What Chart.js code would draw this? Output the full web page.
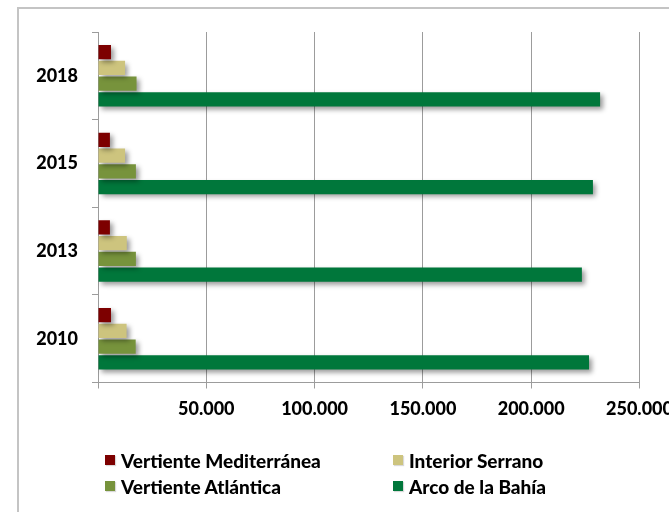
<!DOCTYPE html>
<html>
<head>
<meta charset="utf-8">
<script src="https://cdn.jsdelivr.net/npm/chart.js@4"></script>
<style>
  html, body { margin: 0; padding: 0; background: #fff; overflow: hidden; }
  #wrap { position: relative; width: 669px; height: 512px; }
  #frame {
    position: absolute; left: 17px; top: 7px; width: 700px; height: 600px;
    border-left: 2px solid #c4c4c4; border-top: 2px solid #c4c4c4;
  }
  #chart { position: absolute; left: 0; top: 0; }
  #legend {
    position: absolute; left: 105px; top: 447px;
    display: grid; grid-template-columns: 288px auto; grid-auto-rows: 26px;
    font-family: Lato, "Noto Sans", sans-serif; font-weight: 900; font-size: 19px; color: #000;
  }
  #legend .item { display: flex; align-items: center; white-space: nowrap; }
  #legend .box { width: 10px; height: 10px; margin-right: 6px; box-shadow: 1px 1px 1px rgba(0,0,0,0.15); }
</style>
</head>
<body>
<div id="wrap">
  <div id="frame"></div>
  <canvas id="chart" width="669" height="512"></canvas>
  <div id="legend"></div>
</div>
<script>
(() => {
  'use strict';

  // 年
  const years = ['2010', '2013', '2015', '2018'];

  // 系列ごとの値
  const mediterranea = [6000, 5500, 5500, 6000];
  const serrano = [13200, 13300, 12500, 12500];
  const atlantica = [17400, 17500, 17500, 17800];
  const arco = [226700, 223400, 228500, 231800];

  const seriesNames = ['Vertiente Mediterránea', 'Interior Serrano', 'Vertiente Atlántica', 'Arco de la Bahía'];
  const seriesColors = ['#7d0000', '#cdc47e', '#77933c', '#00773b'];
  const xTicks = [0, 50000, 100000, 150000, 200000, 250000];

  const font = { family: 'Lato, "Noto Sans", sans-serif', weight: 900, size: 18 };

  //バーに影をつける
  const shadowPlugin = {
    id: 'barShadow',
    beforeDatasetsDraw(chart) {
      const ctx = chart.ctx;
      ctx.save();
      ctx.shadowColor = 'rgba(0,0,0,0.4)';
      ctx.shadowBlur = 5;
      ctx.shadowOffsetX = 3;
      ctx.shadowOffsetY = 3;
    },
    afterDatasetsDraw(chart) {
      chart.ctx.restore();
    }
  };

  //凡例はHTMLで2列に並べる
  const htmlLegend = {
    id: 'htmlLegend',
    afterUpdate(chart) {
      const box = document.getElementById('legend');
      while (box.firstChild) {
        box.removeChild(box.firstChild);
      }
      const items = chart.options.plugins.legend.labels.generateLabels(chart);
      items.forEach((item) => {
        const row = document.createElement('div');
        row.className = 'item';
        const sq = document.createElement('span');
        sq.className = 'box';
        sq.style.background = item.fillStyle;
        const txt = document.createElement('span');
        txt.textContent = item.text;
        row.appendChild(sq);
        row.appendChild(txt);
        box.appendChild(row);
      });
    }
  };

  const datasets = [mediterranea, serrano, atlantica, arco].map((values, i) => ({
    label: seriesNames[i],
    data: values,
    backgroundColor: seriesColors[i],
    borderWidth: 0,
    categoryPercentage: 0.72,
    barPercentage: 0.9
  }));

  new Chart(document.getElementById('chart'), {
    type: 'bar',
    data: { labels: years, datasets: datasets },
    options: {
      indexAxis: 'y',
      responsive: false,
      animation: false,
      layout: { padding: { left: 0, top: 32, right: 29.5, bottom: 89.5 } },
      plugins: {
        legend: { display: false },
        tooltip: { enabled: false }
      },
      scales: {
        x: {
          min: 0,
          max: 250000,
          afterBuildTicks: (scale) => {
            scale.ticks = xTicks.map((v) => ({ value: v }));
          },
          afterFit: (scale) => {
            scale.height = 40;
            scale.paddingLeft = 0;
            scale.paddingRight = 0;
          },
          grid: { color: '#9c9c9c', lineWidth: 1, tickLength: 6, tickColor: '#9c9c9c' },
          border: { color: '#9c9c9c' },
          ticks: {
            color: '#000',
            font: font,
            padding: 10,
            maxRotation: 0,
            autoSkip: false,
            callback: (v) => (v === 0 ? '' : v.toLocaleString('de-DE'))
          }
        },
        y: {
          reverse: true,
          afterFit: (scale) => {
            scale.width = 98;
          },
          grid: { drawOnChartArea: false, tickLength: 6, color: '#9c9c9c' },
          border: { color: '#9c9c9c' },
          ticks: { color: '#000', font: font, padding: 14 }
        }
      }
    },
    plugins: [shadowPlugin, htmlLegend]
  });
})();
</script>
</body>
</html>
